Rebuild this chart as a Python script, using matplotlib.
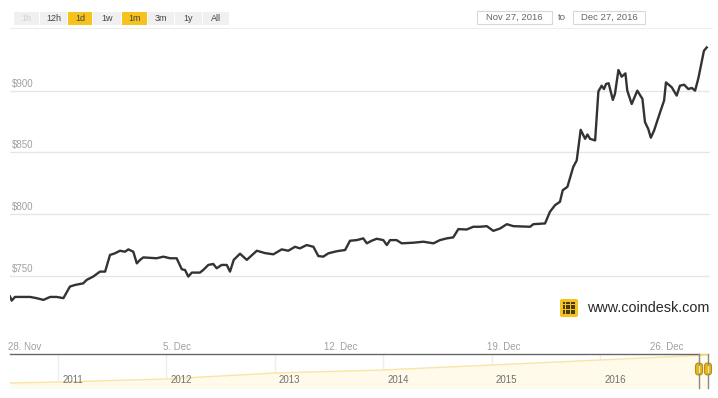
import matplotlib
matplotlib.use("Agg")
import matplotlib.pyplot as plt
from matplotlib.patches import Rectangle, FancyBboxPatch
import matplotlib.transforms as mtransforms

plt.rcParams['font.family'] = ['Liberation Sans', 'DejaVu Sans']

# ---------------- data ----------------
# days since 28 Nov 2016 00:00
day = [-0.17, -0.10, 0.04, 0.26, 0.69, 0.97, 1.26, 1.55, 1.83, 2.12, 2.40, 2.62, 2.97,
       3.12, 3.40, 3.69, 3.91, 4.12, 4.33, 4.55, 4.76, 4.91, 5.12, 5.27, 5.41, 5.55,
       6.12, 6.41, 6.70, 6.98, 7.20, 7.34, 7.48, 7.63, 7.98, 8.12, 8.34, 8.55, 8.70,
       8.91, 9.13, 9.27, 9.43, 9.70, 9.99, 10.42, 10.77, 11.13, 11.49, 11.77,
       12.06, 12.27, 12.56, 12.85, 13.06, 13.27, 13.49, 13.85, 14.21, 14.42, 14.71,
       14.99, 15.14, 15.35, 15.57, 15.85, 16.00, 16.14, 16.42, 16.64, 17.14, 17.57,
       18.00, 18.28, 18.57, 18.85, 19.07, 19.43, 19.71, 20.00, 20.29, 20.57, 20.86,
       21.15, 21.43, 22.15, 22.29, 22.79, 23.00, 23.22, 23.43, 23.55, 23.75, 24.00,
       24.15, 24.32, 24.51, 24.61, 24.72, 24.94, 25.08, 25.22, 25.32, 25.41, 25.52,
       25.70, 25.79, 25.94, 26.08, 26.24, 26.32, 26.51, 26.75, 26.97, 27.08, 27.22,
       27.33, 27.47, 27.73, 27.90, 27.98, 28.23, 28.44, 28.58, 28.76, 28.94, 29.09,
       29.23, 29.37, 29.61, 29.73]
price = [733.3, 730.0, 733.0, 733.0, 733.0, 732.0, 730.6, 733.0, 733.0, 732.0, 741.4,
         742.7, 744.0, 746.8, 749.5, 753.5, 753.5, 767.0, 768.3, 770.4, 769.6, 771.5,
         769.6, 760.2, 763.0, 765.0, 764.3, 765.6, 764.3, 764.3, 755.4, 754.8, 749.5,
         752.7, 752.7, 754.8, 758.9, 759.7, 756.2, 758.9, 758.9, 753.5, 763.0, 768.0,
         763.0, 770.4, 768.5, 767.5, 771.5, 770.4, 773.6, 772.3, 775.0, 773.6,
         766.1, 765.6, 768.3, 770.0, 771.0, 778.5, 779.0, 780.4, 776.4, 778.5, 780.1,
         779.0, 775.0, 779.0, 779.0, 776.4, 776.9, 777.7, 776.4, 779.0, 780.4, 781.2,
         787.9, 787.6, 789.8, 789.8, 790.3, 786.5, 788.4, 791.9, 790.3, 789.8, 791.9,
         792.5, 801.9, 807.3, 810.0, 819.4, 822.1, 838.2, 843.5, 868.3, 861.0, 864.5,
         861.0, 859.7, 899.4, 904.0, 901.3, 905.4, 906.0, 892.5, 897.3, 916.7, 911.3,
         914.0, 900.0, 889.2, 900.0, 893.3, 874.5, 869.0, 861.9, 867.7, 882.6, 892.0,
         906.7, 902.7, 896.0, 904.0, 904.8, 901.3, 902.2, 900.0, 910.0, 932.3, 935.0]

y_ticks = [750, 800, 850, 900]
y_labels = ['$750', '$800', '$850', '$900']
x_ticks = [0, 7, 14, 21, 28]
x_labels = ['28. Nov', '5. Dec', '12. Dec', '19. Dec', '26. Dec']

buttons = ['1h', '12h', '1d', '1w', '1m', '3m', '1y', 'All']
button_selected = ['1d', '1m']
button_disabled = ['1h']
date_from = 'Nov 27, 2016'
date_to = 'Dec 27, 2016'

nav_years = [2010.56, 2011, 2012, 2013, 2014, 2015, 2016, 2016.99]
nav_level = [0.147, 0.176, 0.265, 0.441, 0.53, 0.676, 0.824, 0.97]
year_ticks = [2011, 2012, 2013, 2014, 2015, 2016]

# ---------------- figure ----------------
W, H = 718, 398
fig = plt.figure(figsize=(W / 100, H / 100), dpi=100)
fig.patch.set_facecolor('white')

def rect(x0, y0, x1, y1):
    return [x0 / W, 1 - y1 / H, (x1 - x0) / W, (y1 - y0) / H]

# main chart
ax = fig.add_axes(rect(10, 30, 710, 354))
ax.set_xlim(-0.172, 29.87)
ax.set_ylim(686.8, 949.1)
ax.set_axis_off()
for t, lab in zip(y_ticks, y_labels):
    ax.axhline(t, color='#e6e6e6', lw=1.0, zorder=0)
    ax.annotate(lab, xy=(2 / 700, t), xycoords=('axes fraction', 'data'),
                xytext=(0, 1.5), textcoords='offset points',
                ha='left', va='bottom', fontsize=7, color='#a0a0a0')
ax.plot(day, price, color='#333333', lw=1.7, solid_joinstyle='round', zorder=3)
trans = mtransforms.blended_transform_factory(ax.transData, ax.transAxes)
for i, (t, lab) in enumerate(zip(x_ticks, x_labels)):
    if i == 0:
        ax.text(-0.26, 0.023, lab, transform=trans, ha='left', va='center',
                fontsize=7, color='#a0a0a0')
    else:
        ax.text(t, 0.023, lab, transform=trans, ha='center', va='center',
                fontsize=7, color='#a0a0a0')

# navigator
nav = fig.add_axes(rect(10, 354, 710, 388))
nav.set_facecolor('none')
nav.set_xlim(2010.557, 2017.015)
nav.set_ylim(0, 1)
nav.set_axis_off()
for yr in year_ticks:
    nav.axvline(yr, color='#eeeeee', lw=1.0, zorder=0)
    nav.annotate(str(yr), xy=(yr, 0.24), xycoords='data', xytext=(3, 0),
                 textcoords='offset points', ha='left', va='center',
                 fontsize=7, color='#707070')
nav.fill_between(nav_years, nav_level, 0, color='#fffaea', zorder=1)
nav.plot(nav_years, nav_level, color='#f7e6a6', lw=1.0, zorder=2)

# overlay in pixel coordinates
ov = fig.add_axes([0, 0, 1, 1])
ov.set_facecolor('none')
ov.set_xlim(0, W)
ov.set_ylim(H, 0)
ov.set_axis_off()
ov.set_zorder(10)

# range selector buttons
bx = [14, 40, 68, 93, 122, 148, 175, 203, 230]
for i, b in enumerate(buttons):
    x0, x1 = bx[i], bx[i + 1]
    fc = '#f7c21c' if b in button_selected else '#f0f0f0'
    ov.add_patch(Rectangle((x0, 12), x1 - x0 - 1, 13, facecolor=fc, edgecolor='none'))
    col = '#d0d0d0' if b in button_disabled else '#444444'
    ov.text((x0 + x1 - 1) / 2, 18.8, b, ha='center', va='center', fontsize=6.5, color=col)

# date inputs
for (x0, x1), txt in zip([(477, 552), (573, 645)], [date_from, date_to]):
    ov.add_patch(Rectangle((x0, 11), x1 - x0, 13, facecolor='white',
                           edgecolor='#d8d8d8', lw=0.8))
    ov.text((x0 + x1) / 2, 17.8, txt, ha='center', va='center', fontsize=6.8, color='#666666')
ov.text(562, 18, 'to', ha='center', va='center', fontsize=6.8, color='#666666')

# separator line below the toolbar
ov.plot([10, 712], [28, 28], color='#eeeeee', lw=0.8)

# coindesk logo
ov.add_patch(FancyBboxPatch((560, 299), 18, 18, boxstyle='round,pad=0,rounding_size=2',
                            facecolor='#f6c21c', edgecolor='none'))
gx = [564, 566.5, 569, 571.5, 574]
for yy in [303, 305.5, 308, 310.5, 313]:
    ov.scatter(gx, [yy] * 5, s=1.4, color='#4a3a10', marker='s', linewidths=0)
ov.text(587, 308.5, 'www.coindesk.com', ha='left', va='center', fontsize=10.4,
        color='#2a2a2a')

# navigator outline and handles
ov.plot([10, 699], [354, 354], color='#666666', lw=1.0)
ov.plot([699, 708], [354, 354], color='#f0d070', lw=1.0)
for hx in [699, 708]:
    ov.plot([hx, hx], [354, 388], color='#888888', lw=1.0)
    ov.add_patch(FancyBboxPatch((hx - 3.5, 363), 7, 12,
                                boxstyle='round,pad=0,rounding_size=3.4',
                                facecolor='#e8b81a', edgecolor='#b88f10', lw=0.8))
    ov.plot([hx, hx], [366, 372], color='#f8e7a0', lw=1.0)

fig.savefig('out.png', dpi=100, facecolor='white')
